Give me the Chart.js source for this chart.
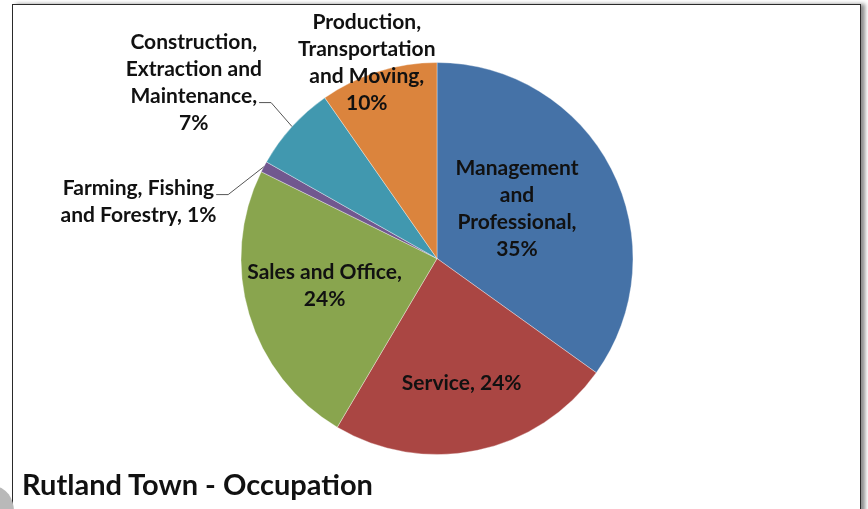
<!DOCTYPE html>
<html>
<head>
<meta charset="utf-8">
<script src="https://cdn.jsdelivr.net/npm/chart.js@4"></script>
<style>
  html, body { margin: 0; padding: 0; background: #fff; }
  body { width: 868px; height: 509px; position: relative; overflow: hidden; }
  #frame { position: absolute; left: 12px; top: 4px; width: 847px; height: 520px;
           border: 1.5px solid #2a2a2a; box-shadow: 4px 0 4px rgba(0,0,0,0.45); background: #fff; }
  #blob { position: absolute; left: -22px; top: 487px; width: 36px; height: 50px; border-radius: 50%; background: #b9b9b9; }
  #wrap { position: absolute; left: 0; top: 0; width: 868px; height: 509px; }
  #title { position: absolute; left: 22px; top: 466px; font-family: Lato, "Open Sans", sans-serif;
           font-weight: bold; font-size: 29px; color: #111; white-space: nowrap; }
</style>
</head>
<body>
<div id="frame"></div>
<div id="blob"></div>
<div id="wrap"><canvas id="c" width="868" height="509"></canvas></div>
<div id="title">Rutland Town - Occupation</div>
<script>
const categories = [
  "Management and Professional",
  "Service",
  "Sales and Office",
  "Farming, Fishing and Forestry",
  "Construction, Extraction and Maintenance",
  "Production, Transportation and Moving"
];
const shares = [34.9, 23.6, 23.8, 0.9, 7.1, 9.7];
const labelLines = [
  ["Management", "and", "Professional,"],
  ["Service,"],
  ["Sales and Office,"],
  ["Farming, Fishing", "and Forestry,"],
  ["Construction,", "Extraction and", "Maintenance,"],
  ["Production,", "Transportation", "and Moving,"]
];
const colors = ["#4572A7", "#AA4643", "#89A54E", "#71588F", "#4198AF", "#DB843D"];

// label placement (radius factor, angle tweak in degrees, leader line info)
const labelLayout = [
  { f: 0.48, da: -4.6 },
  { f: 0.65, da: 0.7, inline: true },
  { f: 0.59, da: 3 },
  { f: 1.55, da: -17.2, inline: true, leaderLine: 0 },
  { f: 1.53, da: -6.5, leaderLine: 2 },
  { f: 1.06, da: -2.3 }
];

const labelPlugin = {
  id: 'sliceLabels',
  afterDatasetsDraw(chart) {
    const ctx = chart.ctx;
    const meta = chart.getDatasetMeta(0);
    const data = chart.data.datasets[0].data;
    const total = data.reduce((a, b) => a + b, 0);
    ctx.save();
    ctx.font = 'bold 21px Lato, "Open Sans", sans-serif';
    ctx.fillStyle = '#111';
    ctx.textAlign = 'center';
    ctx.textBaseline = 'middle';
    const lh = 27;
    meta.data.forEach((arc, i) => {
      const p = arc.getProps(['x', 'y', 'startAngle', 'endAngle', 'outerRadius'], true);
      const mid = (p.startAngle + p.endAngle) / 2;
      const lay = labelLayout[i];
      const a = mid + lay.da * Math.PI / 180;
      const cx = p.x + Math.cos(a) * p.outerRadius * lay.f;
      const cy = p.y + Math.sin(a) * p.outerRadius * lay.f;
      const pct = Math.round(data[i] / total * 100) + '%';
      let lines = labelLines[i].slice();
      if (lay.inline) {
        lines[lines.length - 1] = lines[lines.length - 1] + ' ' + pct;
      } else {
        lines.push(pct);
      }
      const y0 = cy - (lines.length - 1) * lh / 2;
      lines.forEach((t, k) => ctx.fillText(t, cx, y0 + k * lh));
      if (lay.leaderLine !== undefined) {
        const k = lay.leaderLine;
        const w = ctx.measureText(lines[k]).width;
        const ly = y0 + k * lh + 6;
        const sx = cx + w / 2 + 2;
        const ex = p.x + Math.cos(mid) * p.outerRadius;
        const ey = p.y + Math.sin(mid) * p.outerRadius;
        ctx.beginPath();
        ctx.strokeStyle = '#555';
        ctx.lineWidth = 1;
        ctx.moveTo(sx, ly);
        ctx.lineTo(sx + 12, ly);
        ctx.lineTo(ex, ey);
        ctx.stroke();
      }
    });
    ctx.restore();
  }
};

new Chart(document.getElementById('c'), {
  type: 'pie',
  data: {
    labels: categories,
    datasets: [{
      data: shares,
      backgroundColor: colors,
      borderColor: 'rgba(255,255,255,0.35)',
      borderWidth: 1
    }]
  },
  options: {
    responsive: false,
    animation: false,
    layout: { padding: { left: 240, right: 234, top: 62, bottom: 54 } },
    plugins: { legend: { display: false }, tooltip: { enabled: false }, title: { display: false } }
  },
  plugins: [labelPlugin]
});
</script>
</body>
</html>
